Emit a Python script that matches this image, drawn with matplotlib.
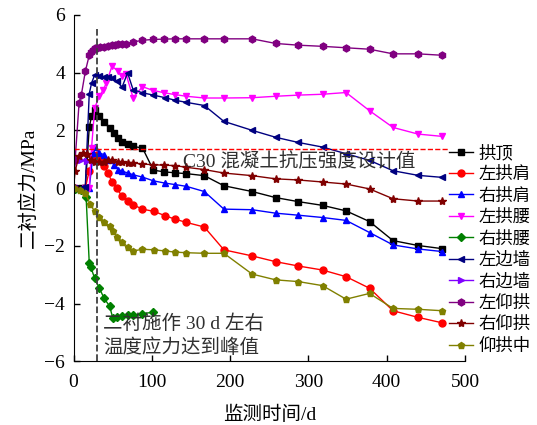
import numpy as np
import matplotlib
matplotlib.use('Agg')
import matplotlib.pyplot as plt

plt.rcParams['font.family'] = ['Liberation Serif', 'Noto Sans CJK SC']
plt.rcParams['axes.unicode_minus'] = True

# monitoring data (days, MPa)
x_gd = [0, 10, 15, 20, 23, 27, 33, 39, 46, 52, 57, 62, 70, 76, 88, 102, 116, 129, 144, 167,
        192, 228, 258, 287, 318, 348, 378, 408, 440, 471]
y_gd = [0, 0, 0, 2.1, 2.49, 2.72, 2.49, 2.28, 2.08, 1.91, 1.74, 1.58, 1.53, 1.44, 1.39, 0.62,
        0.56, 0.53, 0.5, 0.43, 0.08, -0.12, -0.33, -0.47, -0.6, -0.79, -1.16, -1.82, -1.99, -2.1]

x_zgj = [0, 15, 20, 25, 30, 34, 39, 44, 49, 55, 62, 69, 76, 88, 103, 117, 130, 144, 167, 192,
         228, 258, 287, 318, 348, 378, 408, 440, 471]
y_zgj = [0, 0, 0.6, 1.0, 1.15, 1.0, 0.78, 0.52, 0.22, 0.0, -0.29, -0.46, -0.58, -0.73, -0.81,
         -0.96, -1.08, -1.19, -1.35, -2.14, -2.35, -2.55, -2.7, -2.84, -3.07, -3.47, -4.25,
         -4.48, -4.67]

x_ygj = [0, 15, 20, 25, 28, 33, 39, 44, 52, 57, 62, 70, 76, 88, 102, 117, 130, 144, 167, 192,
         228, 258, 287, 318, 348, 378, 408, 440, 471]
y_ygj = [0, 0, 0, 1.2, 1.42, 1.21, 1.16, 0.98, 0.81, 0.64, 0.58, 0.52, 0.46, 0.38, 0.25, 0.17,
         0.12, 0.06, -0.12, -0.73, -0.75, -0.87, -0.94, -1.02, -1.12, -1.54, -1.97, -2.11, -2.2]

x_zgy = [0, 15, 20, 23, 27, 33, 38, 42, 49, 57, 62, 67, 76, 88, 102, 116, 129, 144, 167, 192,
         228, 258, 287, 318, 348, 378, 408, 440, 471]
y_zgy = [0, 0, 0, 1.4, 2.78, 3.18, 3.41, 3.65, 4.22, 4.05, 3.87, 3.95, 3.13, 3.51, 3.38, 3.3,
         3.24, 3.18, 3.12, 3.12, 3.13, 3.18, 3.22, 3.25, 3.31, 2.68, 2.1, 1.87, 1.79]

x_ygy = [0, 2, 10, 16, 20, 22, 27, 33, 39, 46, 50, 56, 62, 70, 76, 88, 102]
y_ygy = [0, -0.03, -0.05, -0.3, -2.58, -2.74, -3.13, -3.47, -3.82, -4.09, -4.49, -4.46, -4.43,
         -4.41, -4.4, -4.35, -4.3]

x_zbq = [0, 10, 15, 20, 23, 27, 33, 39, 44, 49, 55, 62, 69, 76, 88, 102, 117, 130, 144, 167,
         192, 228, 258, 287, 318, 348, 378, 408, 440, 471]
y_zbq = [0, 0, 0.05, 3.26, 3.64, 3.92, 3.88, 3.86, 3.84, 3.8, 3.7, 3.5, 3.99, 3.41, 3.3, 3.22,
         3.13, 3.04, 2.97, 2.86, 2.31, 2.0, 1.76, 1.58, 1.42, 1.19, 0.96, 0.6, 0.44, 0.37]

x_ybq = [0, 2, 10, 17]
y_ybq = [0, 0.98, 0.96, 0.95]

x_zyg = [0, 2, 7, 10, 15, 20, 22, 25, 27, 30, 34, 39, 44, 49, 53, 57, 62, 67, 76, 88, 102, 116,
         129, 144, 167, 192, 228, 258, 287, 318, 348, 378, 408, 440, 471]
y_zyg = [0, 0.98, 2.93, 3.24, 4.04, 4.6, 4.71, 4.8, 4.85, 4.86, 4.88, 4.9, 4.93, 4.95, 4.97,
         4.98, 5.0, 5.0, 5.06, 5.12, 5.15, 5.16, 5.17, 5.17, 5.17, 5.17, 5.17, 5.01, 4.95, 4.91,
         4.86, 4.81, 4.65, 4.65, 4.6]

x_yyg = [0, 2, 7, 12, 17, 22, 27, 33, 39, 44, 49, 57, 62, 70, 76, 88, 102, 116, 129, 144, 167,
         192, 228, 258, 287, 318, 348, 378, 408, 440, 471]
y_yyg = [0, 0.6, 1.1, 1.2, 1.19, 0.98, 0.92, 0.92, 0.92, 0.98, 0.98, 0.92, 0.89, 0.87, 0.87,
         0.83, 0.81, 0.79, 0.78, 0.72, 0.64, 0.52, 0.43, 0.32, 0.28, 0.21, 0.14, -0.03, -0.37,
         -0.45, -0.45]

x_ygz = [0, 8, 15, 21, 27, 33, 39, 46, 51, 56, 62, 69, 76, 88, 103, 117, 130, 144, 167, 192,
         228, 258, 287, 318, 348, 378, 408, 440, 471]
y_ygz = [0, -0.06, -0.17, -0.55, -0.81, -1.0, -1.16, -1.33, -1.5, -1.7, -1.87, -2.03, -2.18,
         -2.12, -2.14, -2.18, -2.22, -2.24, -2.26, -2.26, -2.98, -3.18, -3.24, -3.38, -3.85,
         -3.65, -4.17, -4.2, -4.25]

labels = ['拱顶', '左拱肩', '右拱肩', '左拱腰', '右拱腰', '左边墙', '右边墙', '左仰拱', '右仰拱', '仰拱中']
xs = [x_gd, x_zgj, x_ygj, x_zgy, x_ygy, x_zbq, x_ybq, x_zyg, x_yyg, x_ygz]
ys = [y_gd, y_zgj, y_ygj, y_zgy, y_ygy, y_zbq, y_ybq, y_zyg, y_yyg, y_ygz]
colors = ['#000000', '#FF0000', '#0000FF', '#FF00FF', '#008000', '#000080', '#8000FF',
          '#800080', '#800000', '#808000']
markers = ['s', 'o', '^', 'v', 'D', '<', '>', 'h', '*', 'p']
msizes = [5, 5, 5, 5, 4, 5, 5, 5, 6, 5]

c30_limit = 1.34
peak_day = 30

fig = plt.figure(figsize=(5.37, 4.25), dpi=100)
ax = fig.add_axes([0.137, 0.15, 0.729, 0.815])

for x, y, lab, c, m, ms in zip(xs, ys, labels, colors, markers, msizes):
    ax.plot(x, y, color=c, marker=m, ms=ms, lw=1.0, label=lab)

ax.plot([0, 478], [c30_limit, c30_limit], color='#FF0000', ls='--', lw=1.0)
ax.plot([peak_day, peak_day], [-6, 5.5], color='#404040', ls='--', lw=1.3)

ax.text(140, 0.91, 'C30 混凝土抗压强度设计值', fontsize=14, color='#303030',
        va='center', ha='left')
ax.text(38, -5.12, '二衬施作 30 d 左右\n温度应力达到峰值', fontsize=14, color='#303030',
        va='center', ha='left', linespacing=1.4)

ax.set_xlim(0, 500)
ax.set_ylim(-6, 6)
ax.set_xticks(np.arange(0, 501, 100))
ax.set_yticks(np.arange(-6, 7, 2))
ax.tick_params(direction='in', labelsize=14, length=4, width=1)
ax.tick_params(axis='x', pad=9)
ax.tick_params(axis='y', pad=6)
ax.spines['top'].set_visible(False)
ax.spines['right'].set_visible(False)
ax.set_xlabel('监测时间/d', fontsize=14, labelpad=11)
ax.set_ylabel('二衬应力/MPa', fontsize=14, labelpad=5)

fig.legend(loc='center left', bbox_to_anchor=(0.836, 0.412), frameon=False, fontsize=12.5,
           handlelength=1.4, handletextpad=0.3, labelspacing=0.3, borderpad=0,
           borderaxespad=0)

fig.savefig('out.png', dpi=100)
